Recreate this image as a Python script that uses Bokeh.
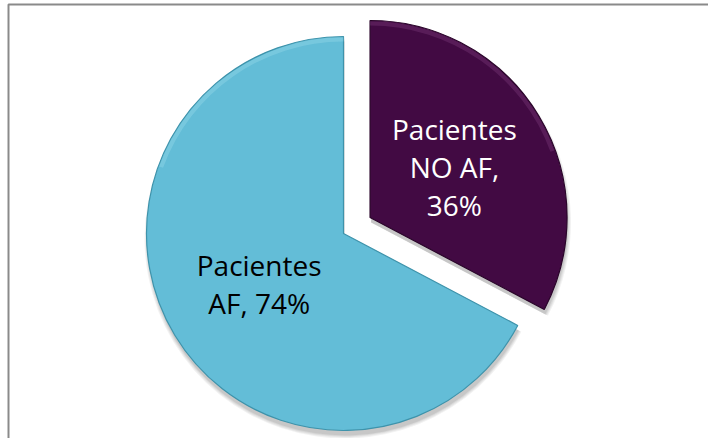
import math

from bokeh.core.properties import value
from bokeh.embed import file_html
from bokeh.models import ColumnDataSource, Range1d
from bokeh.plotting import figure
from bokeh.resources import INLINE

# Slice data (clockwise from 12 o'clock)
categories = ["Pacientes NO AF", "Pacientes AF"]
label_text = ["Pacientes\nNO AF,\n36%", "Pacientes\nAF, 74%"]
percent = [36, 74]
explode = [31, 0]

colors = ["#420A43", "#63BDD7"]
edge_light = ["#8A4A8B", "#A6E0EE"]
edge_dark = ["#2A052A", "#3E93AB"]
text_colors = ["#FFFFFF", "#000000"]

W, H = 708, 438
CX, CY, R = 343, 205, 197

total = float(sum(percent))
rows = dict(x=[], y=[], start=[], end=[], color=[], light=[], dark=[],
            lx=[], ly=[], label=[], tcolor=[], hs=[], he=[])
angle = math.pi / 2
for i, v in enumerate(percent):
    sweep = 2 * math.pi * v / total
    a0 = angle - sweep
    while a0 <= -math.pi:
        a0 += 2 * math.pi
    a1 = a0 + sweep
    mid = a0 + sweep / 2
    ox = CX + explode[i] * math.cos(mid)
    oy = CY + explode[i] * math.sin(mid)
    rows["x"].append(ox)
    rows["y"].append(oy)
    rows["start"].append(a0)
    rows["end"].append(a1)
    rows["color"].append(colors[i])
    rows["light"].append(edge_light[i])
    rows["dark"].append(edge_dark[i])
    rows["lx"].append(ox + 0.5 * R * math.cos(mid))
    rows["ly"].append(oy + 0.5 * R * math.sin(mid))
    rows["label"].append(label_text[i])
    rows["tcolor"].append(text_colors[i])
    # lit part of the rim: the upper arc between 20 and 160 degrees
    rows["hs"].append(max(a0, math.radians(20)))
    rows["he"].append(min(a1, math.radians(160)))
    angle = angle - sweep

src = ColumnDataSource(rows)

p = figure(width=W, height=H, x_range=Range1d(0, W), y_range=Range1d(0, H),
           output_backend="svg", toolbar_location=None, min_border=0,
           background_fill_color="white", border_fill_color="white")
p.axis.visible = False
p.grid.visible = False
p.outline_line_color = None

# chart frame
p.quad(left=[8], right=[W + 20], bottom=[-20], top=[H - 4],
       fill_color=None, line_color="#8A8A8A", line_width=2)

# soft drop shadow
shadow = ColumnDataSource(dict(x=[v + 1 for v in rows["x"]],
                               y=[v - 5 for v in rows["y"]],
                               start=rows["start"], end=rows["end"]))
for k, a in enumerate([0.05, 0.05, 0.06, 0.07]):
    p.wedge(x="x", y="y", radius=R + 3 - k, start_angle="start", end_angle="end",
            source=shadow, fill_color="#000000", fill_alpha=a, line_color=None)

# slices
p.wedge(x="x", y="y", radius=R, start_angle="start", end_angle="end", source=src,
        fill_color="color", line_color="dark", line_width=1.2)

# bevel highlight along the upper rim
p.annular_wedge(x="x", y="y", inner_radius=R - 5, outer_radius=R - 0.8,
                start_angle="hs", end_angle="he", source=src,
                fill_color="light", fill_alpha=0.3, line_color=None)

p.text(x="lx", y="ly", text="label", source=src, text_color="tcolor",
       text_font=value("Open Sans"), text_font_size="28px",
       text_align="center", text_baseline="middle", text_line_height=1.0)

open("out.html", "w").write(file_html(p, INLINE))
